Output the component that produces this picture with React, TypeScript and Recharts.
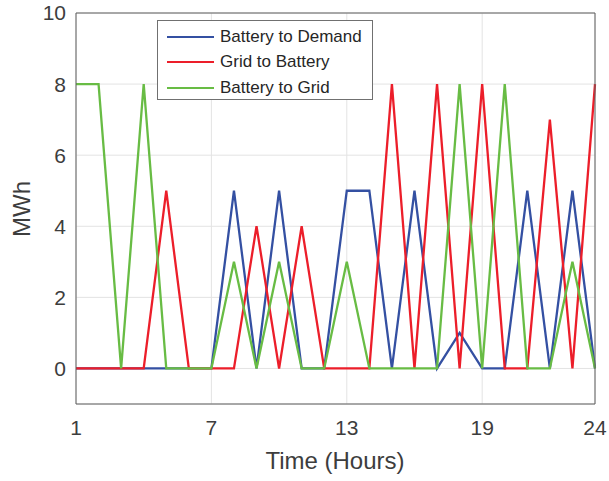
import React from 'react';
import { LineChart, Line, XAxis, YAxis, CartesianGrid, Legend, ReferenceLine } from 'recharts';

const hours = [1, 2, 3, 4, 5, 6, 7, 8, 9, 10, 11, 12, 13, 14, 15, 16, 17, 18, 19, 20, 21, 22, 23, 24];
const batteryToDemand = [0, 0, 0, 0, 0, 0, 0, 5, 0, 5, 0, 0, 5, 5, 0, 5, 0, 1, 0, 0, 5, 0, 5, 0];
const gridToBattery = [0, 0, 0, 0, 5, 0, 0, 0, 4, 0, 4, 0, 0, 0, 8, 0, 8, 0, 8, 0, 0, 7, 0, 8];
const batteryToGrid = [8, 8, 0, 8, 0, 0, 0, 3, 0, 3, 0, 0, 3, 0, 0, 0, 0, 8, 0, 8, 0, 0, 3, 0];
const xTicks = [1, 7, 13, 19, 24];
const yTicks = [-1, 0, 2, 4, 6, 8, 10];

const series = [
  { key: 'demand', name: 'Battery to Demand', color: '#3450a2' },
  { key: 'charge', name: 'Grid to Battery', color: '#ec1e2a' },
  { key: 'export', name: 'Battery to Grid', color: '#68bc44' },
];

const data = hours.map((h, i) => ({
  hour: h,
  demand: batteryToDemand[i],
  charge: gridToBattery[i],
  export: batteryToGrid[i],
}));

const font = '"Liberation Sans", Arial, Helvetica, sans-serif';
const textColor = '#3d3d3d';
const axisColor = '#5e5e5e';

const LegendBox = () => (
  <div
    style={{
      border: '1px solid #707070',
      background: '#fff',
      width: 216,
      height: 80,
      boxSizing: 'border-box',
      padding: '3px 0 0 9px',
      fontFamily: font,
      fontSize: 17,
      color: '#262626',
    }}
  >
    {series.map((s) => (
      <div key={s.key} style={{ display: 'flex', alignItems: 'center', height: 25.5 }}>
        <div style={{ width: 47, height: 2, background: s.color, marginRight: 6 }} />
        <span>{s.name}</span>
      </div>
    ))}
  </div>
);

const YLabel = () => (
  <text
    x={30}
    y={209}
    transform="rotate(-90 30 209)"
    textAnchor="middle"
    fill={textColor}
    fontSize={24}
    fontFamily={font}
  >
    MWh
  </text>
);

const XLabel = () => (
  <text x={335} y={469} textAnchor="middle" fill={textColor} fontSize={24} fontFamily={font}>
    Time (Hours)
  </text>
);

const App: React.FC = () => {
  return (
    <div style={{ width: 609, height: 481, background: '#fff', position: 'relative' }}>
      <style>{'body{margin:0}'}</style>
      <LineChart width={609} height={481} data={data} margin={{ top: 13, right: 14, left: 0, bottom: 0 }}>
        <CartesianGrid stroke="#e3e3e3" strokeWidth={1} />
        <XAxis
          dataKey="hour"
          type="number"
          domain={[1, 24]}
          ticks={xTicks}
          height={77}
          tickSize={0}
          tickMargin={16}
          stroke={axisColor}
          tick={{ fill: textColor, fontSize: 21, fontFamily: font }}
          label={<XLabel />}
        />
        <XAxis
          xAxisId="inner"
          dataKey="hour"
          type="number"
          domain={[1, 24]}
          ticks={xTicks}
          mirror
          axisLine={false}
          tickSize={5}
          tick={false}
          stroke={axisColor}
        />
        <YAxis
          type="number"
          domain={[-1, 10]}
          ticks={yTicks}
          width={76}
          tickSize={0}
          tickMargin={10}
          stroke={axisColor}
          tick={{ fill: textColor, fontSize: 21, fontFamily: font }}
          tickFormatter={(v: number) => (v === -1 ? '' : String(v))}
          label={<YLabel />}
        />
        <YAxis
          yAxisId="innerLeft"
          type="number"
          domain={[-1, 10]}
          ticks={yTicks}
          mirror
          axisLine={false}
          tickSize={5}
          tick={false}
          stroke={axisColor}
        />
        <YAxis
          yAxisId="innerRight"
          orientation="right"
          type="number"
          domain={[-1, 10]}
          ticks={yTicks}
          mirror
          tickSize={5}
          tick={false}
          stroke={axisColor}
        />
        <ReferenceLine y={10} stroke={axisColor} strokeWidth={1} />
        {series.map((s) => (
          <Line
            key={s.key}
            type="linear"
            dataKey={s.key}
            name={s.name}
            stroke={s.color}
            strokeWidth={2.3}
            dot={false}
            isAnimationActive={false}
          />
        ))}
        <Legend
          layout="horizontal"
          verticalAlign="middle"
          align="center"
          content={<LegendBox />}
          wrapperStyle={{ position: 'absolute', left: 157, top: 20, width: 216, height: 80 }}
        />
      </LineChart>
    </div>
  );
};

export default App;
